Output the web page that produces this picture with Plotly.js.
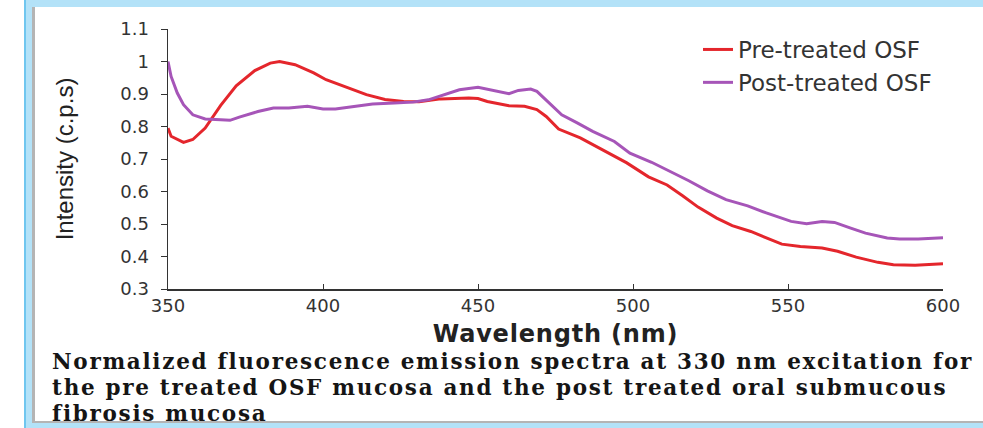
<!DOCTYPE html>
<html>
<head>
<meta charset="utf-8">
<script src="https://cdn.plot.ly/plotly-3.0.1.min.js"></script>
<style>
  html, body { margin:0; padding:0; background:#ffffff; }
  #wrap { position:relative; width:983px; height:428px; overflow:hidden; background:#fff; }
  #chart { position:absolute; left:0; top:0; width:983px; height:428px; }
  .b { position:absolute; }
  #chart .annotation-text { letter-spacing: 1.7px; }
  #chart .xtitle { letter-spacing: 0.8px; }
</style>
</head>
<body>
<div id="wrap">
  <div class="b" style="left:24px;top:0;width:959px;height:7px;background:#b3e2f8;"></div>
  <div class="b" style="left:24px;top:0;width:2px;height:428px;background:#6fc6ef;"></div>
  <div class="b" style="left:26px;top:0;width:6px;height:428px;background:#b3e2f8;"></div>
  <div class="b" style="left:32px;top:7px;width:3px;height:414px;background:#b4b4b4;"></div>
  <div class="b" style="left:32px;top:421px;width:951px;height:2px;background:#b4b4b4;"></div>
  <div class="b" style="left:26px;top:423px;width:957px;height:5px;background:#b3e2f8;"></div>
  <div id="chart"></div>
</div>
<script>
// ---- Data ----
const preWavelength = [350,351,355,358,362,367,372,378,383,386,391,397,401,408,414,420,426,431,438,447,450,453,460,465,469,472,476,483,490,498,505,511,516,521,527,532,538,543,548,554,561,566,572,579,584,591,597,600];
const preIntensity  = [0.795,0.77,0.751,0.76,0.795,0.865,0.925,0.972,0.995,1.0,0.99,0.965,0.944,0.918,0.898,0.883,0.877,0.876,0.885,0.888,0.886,0.877,0.864,0.862,0.852,0.831,0.792,0.765,0.729,0.688,0.645,0.62,0.587,0.552,0.518,0.495,0.477,0.457,0.438,0.431,0.426,0.416,0.398,0.382,0.375,0.373,0.377,0.378];

const postWavelength = [350,351,353,355,358,362,367,370,373,379,384,389,395,400,404,411,416,423,429,434,438,444,450,455,460,463,467,469,472,477,482,487,494,499,506,512,518,524,530,537,543,551,556,561,565,570,575,582,586,592,597,600];
const postIntensity  = [1.0,0.954,0.903,0.867,0.836,0.823,0.821,0.819,0.829,0.846,0.857,0.857,0.862,0.854,0.854,0.862,0.869,0.872,0.875,0.882,0.895,0.913,0.921,0.911,0.901,0.911,0.915,0.908,0.882,0.836,0.811,0.785,0.754,0.718,0.69,0.662,0.633,0.602,0.575,0.556,0.534,0.508,0.501,0.508,0.505,0.488,0.472,0.457,0.454,0.454,0.456,0.458];

const seriesNames = ["Pre-treated OSF", "Post-treated OSF"];
const xTickValues = [350,400,450,500,550,600];
const yTickValues = [0.3,0.4,0.5,0.6,0.7,0.8,0.9,1,1.1];
const yTickLabels = ["0.3","0.4","0.5","0.6","0.7","0.8","0.9","1","1.1"];
const captionLines = [
  "Normalized fluorescence emission spectra at 330 nm excitation for",
  "the pre treated OSF mucosa and the post treated oral submucous",
  "fibrosis mucosa"
];

// ---- Layout geometry ----
const W = 983, H = 428;
const M = {l:168, r:40, t:29, b:139};
const pw = W - M.l - M.r, ph = H - M.t - M.b;
const px2x = p => (p - M.l) / pw;
const py2y = p => (H - M.b - p) / ph;

const sansWide = '"DejaVu Sans","Liberation Sans",Arial,sans-serif';

const traces = [
  {x: preWavelength, y: preIntensity, name: seriesNames[0], type:'scatter', mode:'lines',
   line:{color:'#e4262c', width:3}, legendgroup:'a'},
  {x: postWavelength, y: postIntensity, name: seriesNames[1], type:'scatter', mode:'lines',
   line:{color:'#a655b8', width:3}, legendgroup:'b'}
];

const annotations = captionLines.map((t, i) => ({
  text: t, xref:'paper', yref:'paper', x: px2x(50), y: py2y(361 + i*26),
  xanchor:'left', yanchor:'middle', showarrow:false, align:'left',
  font:{family:'"DejaVu Serif","Liberation Serif",serif', size:21.5, color:'#151515', weight:'bold'}
}));

const layout = {
  width: W, height: H,
  margin: M,
  paper_bgcolor:'rgba(0,0,0,0)',
  plot_bgcolor:'rgba(0,0,0,0)',
  showlegend:true,
  legend:{x:px2x(698), y:py2y(28), xanchor:'left', yanchor:'top',
          bgcolor:'rgba(0,0,0,0)', tracegroupgap:0,
          font:{family:sansWide, size:23, color:'#333'}},
  xaxis:{range:[350,600], tickvals:xTickValues, ticks:'inside', ticklen:5, tickcolor:'#333',
         showline:true, linecolor:'#333', linewidth:1.5, showgrid:false, zeroline:false,
         tickfont:{family:sansWide, size:18, color:'#333'},
         title:{text:'Wavelength (nm)', standoff:10,
                font:{family:sansWide, size:24, color:'#222', weight:'bold'}}},
  yaxis:{range:[0.3,1.1], tickvals:yTickValues, ticktext:yTickLabels, ticks:'outside', ticklen:6, tickcolor:'#333',
         ticklabelstandoff:8,
         showline:true, linecolor:'#333', linewidth:1.5, showgrid:false, zeroline:false,
         tickfont:{family:sansWide, size:18, color:'#333'},
         title:{text:'Intensity (c.p.s)', standoff:40,
                font:{family:'"Liberation Sans",Arial,sans-serif', size:24, color:'#222'}}},
  annotations: annotations
};

Plotly.newPlot('chart', traces, layout, {displayModeBar:false, staticPlot:true});
</script>
</body>
</html>
